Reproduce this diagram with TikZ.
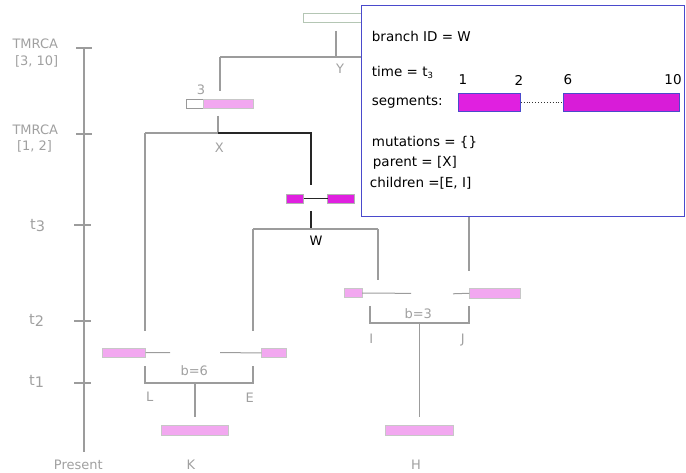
\documentclass[tikz,border=0pt]{standalone}
\usepackage{fontspec}
\setmainfont{DejaVu Sans}
\definecolor{linegray}{HTML}{9C9C9C}
\definecolor{txtgray}{HTML}{A0A0A0}
\definecolor{segpink}{HTML}{F2A8F0}
\definecolor{segmag}{HTML}{E020E0}
\definecolor{segmagB}{HTML}{D81CD8}
\definecolor{infoblue}{HTML}{4A4ACC}
\definecolor{rootgreen}{HTML}{B4C6B4}
\tikzset{
  branch/.style={draw=linegray, line width=1.4pt},
  stub/.style={draw=linegray, line width=1pt},
  active/.style={draw=black!85, line width=1.6pt},
  activethin/.style={draw=black!85, line width=1pt},
  box/.style={anchor=north west, inner sep=0, outer sep=0},
  pinkseg/.style={box, fill=segpink, draw=black!22, line width=0.6pt},
  magseg/.style={box, fill=segmag, draw=black!30, line width=0.6pt},
  emptyseg/.style={box, fill=white, draw=black!40, line width=0.8pt},
  lbl/.style={text=txtgray, font=\fontsize{13}{13}\selectfont, inner sep=0, anchor=base},
  tlbl/.style={text=txtgray, font=\fontsize{14.5}{14.5}\selectfont, inner sep=0, anchor=base west},
  info/.style={font=\fontsize{13.5}{13.5}\selectfont, inner sep=0, anchor=base west},
}
\begin{document}
\begin{tikzpicture}[x=1pt,y=-1pt]
\useasboundingbox (0,0) rectangle (686,473);

% ---- time axis ----
\coordinate (axtop) at (84,48);
\coordinate (axbot) at (84,452);
\draw[branch] (axtop) -- (axbot);
\foreach \yy/\xa/\xb in {48/76/92, 134/76/92, 225/74/91, 321/74/91, 383/74/91}
  \draw[branch] (\xa,\yy) -- (\xb,\yy);
\node[lbl] (tmA) at (35.3,49) {TMRCA};
\node[lbl] (tmAr) at (36.7,65.5) {[3, 10]};
\node[lbl] (tmB) at (35.3,134.3) {TMRCA};
\node[lbl] (tmBr) at (34.5,151) {[1, 2]};
\node[tlbl] (tthree) at (30,230) {t\raisebox{-2pt}{3}};
\node[tlbl] (ttwo) at (29,324) {t\raisebox{-2pt}{2}};
\node[tlbl] (tone) at (29,385.5) {t\raisebox{-2pt}{1}};
\node[lbl] (present) at (78.3,469) {Present};

% ---- root ----
\node[box, draw=rootgreen, fill=white, line width=1pt, minimum width=120pt, minimum height=8.5pt] (root) at (303,14) {};

% ---- branch Y ----
\coordinate (ytop) at (336,31);
\coordinate (yj) at (336,57);
\coordinate (yl) at (220,57);
\coordinate (yr) at (469,57);
\coordinate (xin) at (220,91);
\coordinate (jin) at (469,271);
\draw[branch] (ytop) -- (yj);
\draw[branch] (yl) -- (yr);
\draw[branch] (yl) -- (xin);
\draw[branch] (yr) -- (jin);
\node[lbl] (ylab) at (340,74) {Y};

% ---- branch X ----
\node[emptyseg, minimum width=17pt, minimum height=9.5pt] (xsegA) at (186,99.3) {};
\node[pinkseg, minimum width=50pt, minimum height=9.5pt] (xsegB) at (203.3,99.3) {};
\node[lbl] (xthree) at (201,95) {3};
\coordinate (xtop) at (218,116);
\coordinate (xj) at (218,133);
\coordinate (xl) at (145,133);
\coordinate (xr) at (311,133);
\coordinate (win) at (311,185);
\draw[branch] (xtop) -- (xj);
\draw[branch] (xl) -- (xj);
\draw[active] (xj) -- (xr) -- (win);
\node[lbl] (xlab) at (219.3,153) {X};

% ---- branch W ----
\node[magseg, minimum width=17.5pt, minimum height=9.5pt] (wsegA) at (286,194) {};
\node[magseg, minimum width=26.3pt, minimum height=9.5pt] (wsegB) at (327.7,194) {};
\draw[activethin] (wsegA.east) -- (wsegB.west);
\coordinate (wtop) at (311,211);
\coordinate (wj) at (311,229);
\coordinate (wl) at (253,229);
\coordinate (wr) at (378,229);
\coordinate (ein) at (253,331);
\coordinate (iin) at (378,280);
\coordinate (lin) at (145,331);
\draw[active] (wtop) -- (wj);
\draw[branch] (wl) -- (wr);
\draw[branch] (wl) -- (ein);
\draw[branch] (wr) -- (iin);
\draw[branch] (xl) -- (lin);
\node[lbl, text=black] (wlab) at (316,246) {W};

% ---- branches L, E and K ----
\node[pinkseg, minimum width=43.3pt, minimum height=9.3pt] (lseg) at (102.3,348) {};
\coordinate (lstub) at (170,352.7);
\draw[stub] (lseg.east) -- (lstub);
\node[pinkseg, minimum width=25.4pt, minimum height=9.6pt] (eseg) at (261.3,348) {};
\coordinate (estub) at (220,352.7);
\draw[stub] (estub) -- (eseg.west);
\coordinate (ltop) at (145,366);
\coordinate (lbot) at (145,383);
\coordinate (etop) at (253,366);
\coordinate (ebot) at (253,383);
\coordinate (kj) at (195,383);
\coordinate (kbot) at (195,417);
\draw[branch] (ltop) -- (lbot) -- (ebot) -- (etop);
\draw[branch] (kj) -- (kbot);
\node[pinkseg, minimum width=67.4pt, minimum height=10pt] (kseg) at (161.3,425.3) {};
\node[lbl] (bsix) at (194.3,375) {b=6};
\node[lbl] (llab) at (149.7,401) {L};
\node[lbl] (elab) at (249.7,402.5) {E};
\node[lbl] (klab) at (191,469) {K};

% ---- branches I, J and H ----
\node[pinkseg, minimum width=18pt, minimum height=9.3pt] (iseg) at (344,288.5) {};
\coordinate (istub) at (411,293.3);
\draw[stub] (iseg.east) -- (istub);
\node[pinkseg, minimum width=51pt, minimum height=9.5pt] (jseg) at (469.3,288.5) {};
\coordinate (jstub) at (453,293.8);
\draw[stub] (jstub) -- (jseg.west);
\coordinate (itop) at (370,306);
\coordinate (ibot) at (370,323);
\coordinate (jtop) at (469,306);
\coordinate (jbot) at (469,323);
\coordinate (hj) at (419.3,323);
\coordinate (hbot) at (419.3,417);
\draw[branch] (itop) -- (ibot) -- (jbot) -- (jtop);
\draw[branch] (hj) -- (hbot);
\node[pinkseg, minimum width=68pt, minimum height=10pt] (hseg) at (385.7,425.3) {};
\node[lbl] (bthree) at (418.3,318.5) {b=3};
\node[lbl] (ilab) at (371.3,343.3) {I};
\node[lbl] (jlab) at (462.7,343.3) {J};
\node[lbl] (hlab) at (416,469) {H};

% ---- record of branch W ----
\node[box, draw=infoblue, fill=white, line width=1pt, minimum width=323pt, minimum height=211pt] (info) at (361.7,5.8) {};
\node[info] (bid) at (371.7,41.5) {branch ID = W};
\node[info] (btime) at (371.7,77) {time = t\raisebox{-1.5pt}{\fontsize{8.5}{8.5}\selectfont 3}};
\node[info] (bsegs) at (371.7,106) {segments:};
\node[magseg, fill=segmag, draw=infoblue, line width=0.8pt, minimum width=62.4pt, minimum height=18.4pt] (segA) at (458.3,93.3) {};
\node[magseg, fill=segmagB, draw=infoblue, line width=0.8pt, minimum width=116pt, minimum height=18.4pt] (segB) at (563,93.3) {};
\draw[dotted, line width=0.9pt, black!80] (segA.east) -- (segB.west);
\node[info, anchor=base] (nA) at (463,85) {1};
\node[info, anchor=base] (nB) at (519,85.5) {2};
\node[info, anchor=base] (nC) at (568,85) {6};
\node[info, anchor=base] (nD) at (673,85) {10};
\node[info] (bmut) at (371.7,146.7) {mutations = \{\}};
\node[info] (bpar) at (372.7,166.7) {parent = [X]};
\node[info] (bchi) at (369.7,188) {children =[E, I]};
\end{tikzpicture}
\end{document}
